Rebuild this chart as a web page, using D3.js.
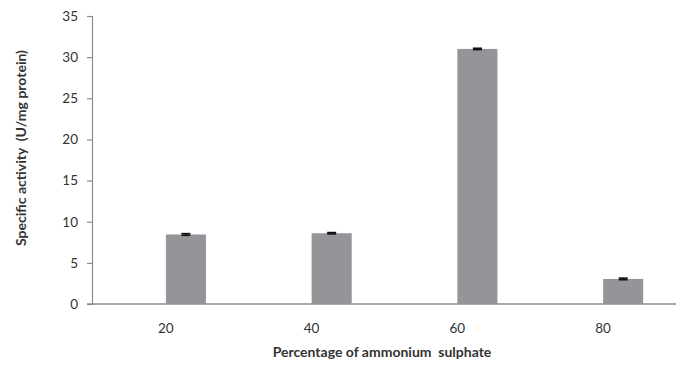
<!DOCTYPE html>
<html>
<head>
<meta charset="utf-8">
<script src="https://cdn.jsdelivr.net/npm/d3@7"></script>
<style>
  html, body { margin: 0; padding: 0; background: #fff; }
  svg { display: block; }
  text { font-family: Lato, "Open Sans", "DejaVu Sans", sans-serif; fill: #333; }
</style>
</head>
<body>
<div id="chart"></div>
<script>
// Specific activity per ammonium sulphate saturation level
const categories = ["20", "40", "60", "80"];
const activity = [8.45, 8.6, 31.0, 3.05];
const activityErr = [0.1, 0.08, 0.08, 0.1];
const yTicks = [0, 5, 10, 15, 20, 25, 30, 35];

const W = 681, H = 370;
const svg = d3.select("#chart").append("svg")
  .attr("width", W).attr("height", H);

const y = d3.scaleLinear().domain([0, 35]).range([304, 16]);
const x = d3.scaleBand().domain(categories).range([93, 676])
  .paddingInner(0.45).paddingOuter(0.225);

const axisColor = "#8c8c8c";

// y axis
const yAxis = svg.append("g").attr("transform", "translate(92,0)")
  .call(d3.axisLeft(y).tickValues(yTicks).tickSize(5).tickPadding(9));
yAxis.select(".domain").attr("stroke", axisColor).attr("stroke-width", 1.2);
yAxis.selectAll(".tick line").attr("stroke", axisColor).attr("stroke-width", 1.2);
yAxis.selectAll(".tick text").style("font-size", "13.5px").attr("fill", "#333");

// x axis line (extends left to the tick length)
svg.append("line")
  .attr("x1", 87).attr("x2", 676)
  .attr("y1", y(0)).attr("y2", y(0))
  .attr("stroke", axisColor).attr("stroke-width", 1.4);

// category labels
svg.append("g").selectAll("text").data(categories).join("text")
  .attr("x", d => x(d) + x.bandwidth() / 2)
  .attr("y", 333)
  .attr("text-anchor", "middle")
  .style("font-size", "13.5px")
  .text(d => d);

// bars occupy the right half of each category band
const half = x.bandwidth() / 2;
svg.append("g").selectAll("rect").data(activity).join("rect")
  .attr("x", (d, i) => x(categories[i]) + half)
  .attr("width", half)
  .attr("y", d => y(d))
  .attr("height", d => y(0) - y(d))
  .attr("fill", "#939598");

// error bars
const eb = svg.append("g").attr("stroke", "#111").attr("stroke-width", 1.6);
activity.forEach((v, i) => {
  const cx = x(categories[i]) + half * 1.5;
  const e = activityErr[i];
  eb.append("line").attr("x1", cx).attr("x2", cx).attr("y1", y(v + e)).attr("y2", y(v - e));
  eb.append("line").attr("x1", cx - 4.5).attr("x2", cx + 4.5).attr("y1", y(v + e)).attr("y2", y(v + e));
  eb.append("line").attr("x1", cx - 4.5).attr("x2", cx + 4.5).attr("y1", y(v - e)).attr("y2", y(v - e));
});

// axis titles
svg.append("text")
  .attr("x", 382).attr("y", 357)
  .attr("text-anchor", "middle")
  .style("font-size", "14px").style("font-weight", "bold")
  .style("white-space", "pre")
  .text("Percentage of ammonium  sulphate");

svg.append("text")
  .attr("transform", "translate(26,148) rotate(-90)")
  .attr("text-anchor", "middle")
  .style("font-size", "14px").style("font-weight", "bold")
  .style("white-space", "pre")
  .text("Specific activity  (U/mg protein)");
</script>
</body>
</html>
